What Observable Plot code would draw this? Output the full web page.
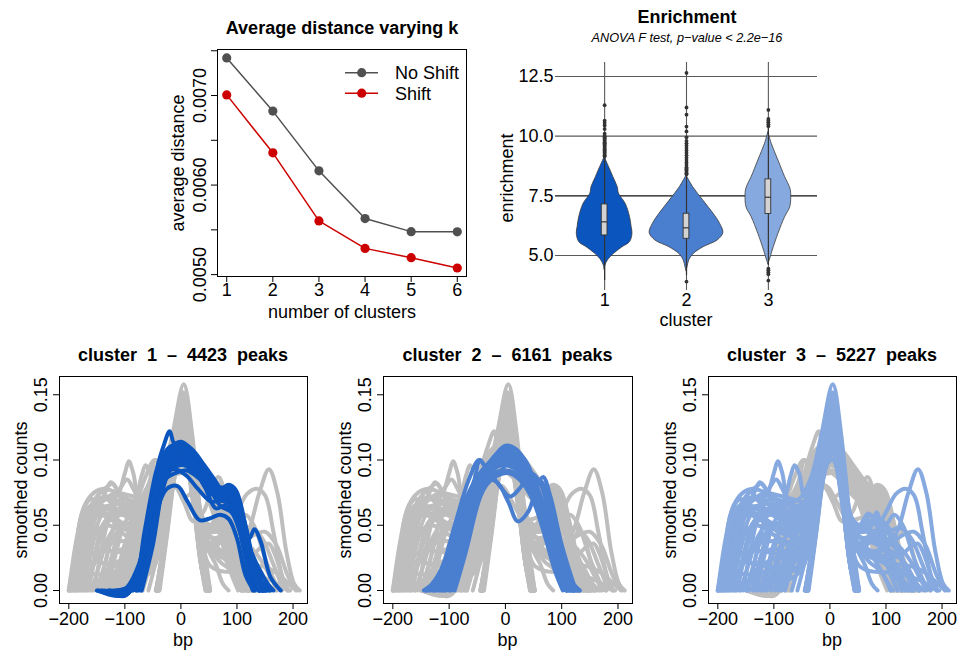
<!DOCTYPE html>
<html><head><meta charset="utf-8">
<script src="https://cdn.jsdelivr.net/npm/d3@7"></script>
<script src="https://cdn.jsdelivr.net/npm/@observablehq/plot@0.6"></script>
<style>
body{margin:0;background:#fff;}
#root{position:relative;width:960px;height:650px;overflow:hidden;font-family:"Liberation Sans",Arial,Helvetica,sans-serif;color:#000;background:#fff;}
.lbl{position:absolute;font-size:18px;white-space:pre;line-height:1;transform:translate(-50%,-50%);}
.rot{transform:translate(-50%,-50%) rotate(-90deg);}
.b{font-weight:bold;}
.i{font-style:italic;}
</style></head>
<body><div id="root"></div>
<script>
// ---------- Panel A: average distance varying k ----------
const kValues = [1, 2, 3, 4, 5, 6];
const distNoShift = [0.00742, 0.006826, 0.006159, 0.005626, 0.00548, 0.005478];
const distShift = [0.007007, 0.00636, 0.0056, 0.005293, 0.005189, 0.005074];
const distTicks = [0.005, 0.0055, 0.006, 0.0065, 0.007, 0.0075];
const distLabelTicks = [0.005, 0.006, 0.007];
const seriesNames = ["No Shift", "Shift"];
const seriesColors = ["#505050", "#cc0000"];

// ---------- Panel B: enrichment violins ----------
const clusters = [1, 2, 3];
const clusterColors = ["#0b55bf", "#4a7fd0", "#86a9df"];
// [enrichment, half width (cluster units)]
const violin1 = [[4.4,0],[4.58,0.01],[4.79,0.04],[5.07,0.115],[5.35,0.22],[5.56,0.31],[5.91,0.34],[6.19,0.33],[6.61,0.31],[7.16,0.258],[7.58,0.176],[7.86,0.16],[8.28,0.107],[8.7,0.055],[9.12,0]];
const violin2 = [[4.35,0],[4.51,0.012],[4.79,0.033],[5.07,0.09],[5.35,0.21],[5.63,0.38],[5.94,0.45],[6.33,0.41],[6.75,0.33],[7.3,0.205],[7.86,0.082],[8.35,0]];
const violin3 = [[4.65,0],[4.79,0.016],[5.21,0.053],[5.91,0.123],[6.61,0.205],[7.02,0.267],[7.44,0.279],[7.79,0.27],[8.28,0.205],[8.98,0.123],[9.68,0.041],[10.17,0]];
const boxQ1 = [5.84, 5.7, 6.74];
const boxMedian = [6.41, 6.16, 7.44];
const boxQ3 = [7.14, 6.75, 8.19];
const whiskerLow = [3.95, 4.15, 4.58];
const whiskerHigh = [9.08, 8.33, 10.35];
const outliers1 = [9.15,9.2,9.25,9.3,9.35,9.4,9.45,9.5,9.55,9.6,9.65,9.7,9.75,9.8,9.85,9.9,9.95,10.0,10.1,10.3,10.45,10.55,10.65,11.3];
const outliers2 = [8.4,8.45,8.5,8.55,8.6,8.65,8.7,8.8,8.9,9.0,9.1,9.2,9.3,9.4,9.5,9.6,9.7,9.8,9.95,10.2,10.4,10.9,11.2,12.65,3.91];
const outliers3 = [10.42,10.5,10.58,10.65,10.72,11.1,4.45,4.38,4.3,4.22,3.95];
const enrichTicks = [5, 7.5, 10, 12.5];

// ---------- Panels C-E: smoothed count profiles (bp, value pairs) ----------
const clusterPeaks = [4423, 6161, 5227];
const bpTicks = [-200, -100, 0, 100, 200];
const countTicks = [0, 0.05, 0.10, 0.15];
const cluster1Curves = [
 [-150,0,-120,-.003,-100,-.004,-80,.008,-65,.045,-45,.09,-30,.112,-20,.122,-12,.113,0,.114,20,.108,40,.097,60,.085,72,.078,85,.081,98,.077,115,.05,130,.015,145,0],
 [-145,0,-110,-.003,-85,.005,-65,.04,-45,.085,-25,.108,-5,.112,20,.105,45,.09,65,.075,85,.07,105,.055,125,.025,150,0],
 [-140,0,-105,-.002,-80,.01,-60,.05,-40,.09,-20,.105,5,.107,30,.095,55,.078,75,.072,95,.065,115,.04,135,.012,160,0],
 [-130,0,-100,.001,-75,.02,-55,.06,-35,.095,-15,.11,10,.108,35,.093,60,.08,85,.078,100,.07,118,.045,135,.01,150,0],
 [-120,0,-95,.002,-70,.025,-50,.065,-30,.095,-10,.105,15,.1,40,.085,65,.07,90,.066,108,.05,125,.02,140,0],
 [-110,0,-85,.005,-62,.035,-42,.075,-25,.098,-5,.108,20,.1,45,.085,70,.072,92,.068,110,.045,128,.015,145,0],
 [-100,0,-78,.008,-58,.04,-38,.08,-20,.1,0,.105,25,.097,50,.08,70,.065,90,.06,105,.045,122,.015,140,0],
 [-95,0,-72,.012,-52,.05,-32,.085,-15,.096,5,.098,30,.09,55,.075,80,.068,95,.07,112,.045,122,.04,131,.047,142,.038,160,.01,178,0],
 [-90,0,-68,.015,-48,.055,-28,.085,-10,.09,10,.092,35,.085,60,.075,85,.08,98,.075,112,.05,128,.015,145,0],
 [-85,0,-63,.02,-44,.06,-25,.078,-6,.08,12,.068,33,.054,50,.055,70,.058,85,.055,100,.04,115,.012,130,0],
 [-80,0,-60,.02,-40,.065,-22,.092,-5,.1,15,.1,40,.09,62,.078,85,.075,105,.06,125,.03,148,0],
 [-75,0,-55,.03,-35,.075,-18,.1,0,.11,22,.105,45,.092,65,.08,88,.072,110,.05,130,.02,152,0],
 [-70,0,-50,.035,-32,.08,-15,.1,5,.105,28,.098,50,.085,72,.075,95,.07,112,.04,125,.01,132,0],
 [-135,0,-100,-.004,-78,.01,-58,.05,-38,.088,-18,.1,5,.1,28,.09,52,.075,78,.074,100,.062,125,.03,155,.005,165,0],
 [-125,0,-90,0,-68,.025,-48,.068,-28,.095,-8,.1,18,.095,42,.08,62,.063,80,.065,95,.058,112,.035,130,.008,140,0],
 [-115,0,-88,.004,-64,.032,-45,.07,-28,.09,-10,.093,10,.088,30,.078,55,.068,78,.07,96,.062,116,.03,138,0],
 [-148,0,-118,-.004,-96,-.002,-78,.012,-60,.048,-42,.085,-26,.103,-8,.107,15,.102,38,.09,60,.078,82,.076,104,.06,122,.03,142,.005,155,0],
 [-105,0,-82,.008,-60,.04,-40,.078,-22,.096,-2,.1,22,.094,48,.08,74,.075,96,.07,114,.045,130,.012,142,0],
 [-88,0,-66,.018,-46,.058,-28,.09,-10,.104,12,.102,36,.09,60,.078,84,.075,100,.066,118,.035,135,.005,148,0],
 [-72,0,-52,.035,-34,.075,-16,.095,4,.1,26,.095,50,.083,72,.072,92,.064,108,.04,120,.012,128,0],
 [-142,0,-112,-.004,-90,0,-72,.02,-54,.058,-36,.092,-20,.108,0,.108,22,.1,46,.088,68,.076,90,.074,108,.058,126,.025,146,.002,158,0],
 [-92,0,-70,.012,-50,.05,-32,.082,-14,.094,6,.096,30,.088,54,.074,78,.072,98,.064,116,.038,134,.008,146,0],
 [-128,0,-98,-.002,-76,.016,-56,.055,-36,.09,-18,.105,2,.106,26,.097,50,.084,74,.077,96,.07,116,.045,136,.012,152,0],
 [-78,0,-58,.026,-40,.07,-22,.096,-4,.104,18,.1,42,.088,64,.076,86,.073,104,.058,122,.025,140,0]
];
const cluster2Curves = [
 [-140,0,-115,.015,-90,.05,-65,.085,-47,.1,-35,.095,-15,.09,5,.098,25,.104,40,.095,60,.075,80,.045,100,.015,118,0],
 [-135,0,-110,.02,-88,.05,-65,.075,-45,.09,-25,.1,0,.111,20,.108,40,.095,60,.072,80,.042,100,.012,120,0],
 [-125,0,-100,.02,-78,.05,-55,.075,-35,.085,-15,.083,5,.068,22,.053,40,.06,55,.078,67,.087,80,.072,100,.035,125,0],
 [-120,0,-95,.025,-72,.06,-50,.085,-30,.09,-10,.08,8,.072,25,.078,45,.09,62,.082,82,.05,100,.02,115,0],
 [-145,0,-118,.01,-95,.035,-70,.065,-45,.085,-20,.1,0,.107,22,.1,45,.085,68,.06,90,.03,110,.008,130,0],
 [-110,0,-88,.025,-65,.06,-42,.085,-20,.1,2,.11,25,.1,48,.08,70,.05,90,.02,108,0],
 [-100,0,-80,.03,-58,.065,-38,.09,-15,.105,5,.108,28,.098,50,.075,72,.045,92,.015,110,0],
 [-130,0,-105,.02,-82,.05,-60,.075,-38,.09,-15,.1,8,.105,30,.1,52,.083,75,.055,98,.022,120,0],
 [-90,0,-70,.03,-50,.065,-30,.09,-10,.1,10,.102,32,.092,55,.07,78,.04,98,.01,112,0],
 [-140,0,-112,.015,-90,.04,-65,.07,-40,.09,-15,.096,10,.095,35,.088,60,.068,85,.04,108,.012,132,0],
 [-115,0,-92,.022,-68,.055,-45,.08,-22,.095,0,.1,22,.097,45,.088,65,.083,85,.055,105,.02,125,0],
 [-105,0,-84,.026,-62,.062,-40,.088,-18,.098,5,.098,28,.09,50,.075,72,.05,95,.018,115,0],
 [-95,0,-75,.03,-55,.06,-35,.08,-15,.088,5,.09,25,.085,48,.07,68,.045,88,.015,102,0],
 [-128,0,-100,.025,-75,.06,-55,.085,-45,.1,-35,.095,-18,.098,0,.1,22,.105,35,.1,55,.08,78,.05,100,.02,122,0],
 [-118,0,-96,.024,-72,.058,-50,.083,-28,.097,-5,.104,18,.1,40,.088,62,.065,84,.035,104,.01,122,0],
 [-98,0,-78,.028,-56,.06,-36,.084,-14,.095,8,.096,30,.088,52,.068,74,.04,94,.012,108,0],
 [-135,0,-108,.018,-84,.048,-62,.074,-40,.09,-18,.095,5,.098,28,.092,50,.078,72,.055,95,.025,118,.004,132,0],
 [-108,0,-86,.025,-64,.058,-42,.08,-20,.09,2,.092,24,.088,46,.075,68,.052,90,.022,110,0],
 [-125,0,-102,.022,-80,.055,-58,.08,-36,.094,-14,.1,8,.101,30,.095,52,.078,74,.05,96,.02,116,0],
 [-112,0,-90,.026,-68,.06,-46,.085,-24,.1,-2,.106,20,.1,42,.086,64,.06,86,.03,106,.006,120,0],
 [-142,0,-116,.012,-92,.042,-70,.07,-48,.088,-26,.097,-4,.1,18,.098,40,.088,62,.066,84,.036,106,.01,128,0]
];
const cluster3Curves = [
 [-200,0,-185,.02,-170,.055,-150,.072,-130,.08,-122,.082,-110,.075,-95,.07,-75,.068,-55,.07,-35,.085,-15,.12,5,.158,20,.12,35,.05,50,0],
 [-195,0,-178,.03,-160,.06,-140,.07,-115,.072,-100,.09,-93,.099,-85,.09,-75,.07,-60,.065,-40,.07,-20,.1,3,.15,20,.11,35,.045,48,0],
 [-190,0,-172,.035,-155,.065,-135,.07,-110,.066,-85,.068,-70,.088,-63,.096,-55,.09,-45,.072,-30,.08,-10,.12,5,.145,22,.1,38,.035,52,0],
 [-185,0,-168,.04,-150,.068,-143,.076,-130,.07,-110,.06,-90,.058,-70,.06,-50,.065,-30,.085,-10,.12,4,.14,20,.105,35,.045,47,0],
 [-180,0,-163,.035,-148,.06,-130,.065,-110,.06,-90,.055,-70,.055,-50,.06,-30,.08,-12,.11,3,.13,20,.09,36,.035,46,0],
 [-198,0,-180,.025,-165,.05,-145,.06,-125,.058,-105,.052,-85,.05,-65,.05,-45,.055,-25,.08,-5,.115,6,.125,22,.085,38,.025,50,0],
 [-175,0,-160,.03,-145,.055,-128,.065,-112,.062,-95,.06,-75,.058,-55,.055,-38,.06,-20,.09,2,.12,18,.09,34,.03,44,0],
 [-170,0,-155,.025,-140,.05,-120,.06,-100,.065,-80,.062,-60,.05,-45,.045,-28,.065,-8,.1,5,.11,22,.075,38,.02,48,0],
 [-160,0,-145,.02,-130,.04,-112,.05,-95,.048,-75,.045,-58,.04,-42,.045,-25,.07,-5,.1,8,.1,25,.065,40,.015,52,0],
 [-42,0,-28,.04,-12,.1,4,.15,20,.11,36,.055,50,.035,75,.03,100,.032,120,.045,140,.075,157,.093,172,.075,188,.03,202,.005,212,0],
 [-44,0,-30,.035,-14,.09,3,.14,20,.1,38,.05,55,.04,80,.045,100,.06,118,.074,135,.078,150,.073,165,.045,180,.012,192,0],
 [-40,0,-25,.05,-10,.1,5,.135,22,.095,38,.055,52,.05,68,.059,78,.055,90,.04,110,.02,125,.005,135,0],
 [-38,0,-24,.045,-8,.1,5,.128,22,.09,40,.05,58,.045,75,.05,83,.06,92,.05,110,.025,130,.005,140,0],
 [-45,0,-30,.03,-14,.08,4,.12,22,.085,40,.04,60,.03,85,.028,110,.025,130,.028,145,.034,157,.036,170,.025,185,.005,192,0],
 [-43,0,-28,.04,-12,.09,6,.115,25,.08,42,.045,60,.04,80,.042,100,.05,115,.058,130,.05,150,.025,170,.005,180,0],
 [-40,0,-25,.045,-10,.1,4,.142,20,.1,36,.05,50,.03,65,.035,85,.04,105,.03,125,.012,145,0],
 [-200,0,-183,.025,-165,.05,-150,.06,-135,.075,-125,.083,-115,.078,-100,.065,-85,.055,-65,.05,-48,.045,-30,.06,-10,.095,5,.105,22,.07,38,.02,46,0],
 [-192,0,-176,.03,-160,.058,-140,.068,-120,.074,-100,.07,-80,.062,-60,.058,-40,.065,-20,.1,4,.148,22,.105,40,.055,60,.048,82,.045,100,.04,120,.03,140,.012,158,0],
 [-165,0,-150,.03,-132,.055,-115,.06,-95,.058,-75,.055,-55,.05,-38,.05,-20,.075,0,.105,15,.1,32,.05,48,.035,70,.04,90,.035,110,.02,128,0],
 [-182,0,-166,.04,-150,.066,-135,.072,-120,.07,-106,.08,-96,.085,-85,.078,-70,.065,-52,.06,-35,.075,-15,.115,4,.152,22,.11,38,.045,52,0],
 [-145,0,-130,.03,-115,.055,-98,.062,-80,.06,-62,.055,-45,.06,-25,.09,-5,.13,6,.138,22,.095,38,.035,50,0],
 [-130,0,-115,.03,-100,.052,-85,.06,-70,.058,-52,.055,-35,.07,-15,.11,4,.142,20,.105,36,.04,48,0],
 [-118,0,-104,.025,-90,.045,-75,.055,-58,.055,-40,.06,-22,.09,-4,.125,7,.13,24,.09,40,.03,52,0],
 [-105,0,-90,.025,-75,.045,-60,.052,-45,.055,-28,.075,-10,.11,4,.132,20,.095,36,.035,46,0],
 [-92,0,-78,.02,-62,.04,-48,.05,-32,.065,-14,.1,4,.125,20,.09,36,.035,45,0],
 [-80,0,-66,.02,-52,.04,-38,.055,-22,.08,-6,.11,6,.118,22,.085,38,.03,48,0],
 [-68,0,-55,.02,-42,.04,-28,.065,-12,.1,4,.135,20,.1,36,.04,48,0],
 [-155,0,-140,.035,-125,.06,-108,.07,-92,.068,-76,.065,-60,.06,-42,.065,-22,.095,2,.145,18,.115,35,.05,50,.03,75,.025,100,.02,120,.008,135,0],
 [-40,0,-24,.05,-8,.11,5,.14,20,.1,36,.05,50,.03,62,.02,75,.005,85,0],
 [-42,0,-26,.05,-10,.105,4,.13,22,.09,38,.045,55,.035,75,.03,95,.025,110,.01,120,0],
 [-44,0,-28,.04,-12,.095,5,.125,22,.085,40,.045,60,.04,85,.035,110,.03,135,.02,155,.005,168,0],
 [-40,0,-25,.045,-10,.1,5,.135,22,.095,40,.05,58,.048,72,.058,86,.05,100,.035,115,.015,128,0],
 [-200,0,-188,.03,-176,.06,-160,.07,-140,.065,-120,.06,-100,.058,-80,.055,-60,.05,-42,.05,-25,.075,-5,.115,6,.12,22,.08,38,.02,48,0],
 [-196,0,-182,.035,-168,.062,-152,.068,-135,.072,-118,.07,-100,.062,-82,.05,-64,.045,-45,.05,-25,.08,-4,.13,6,.135,22,.09,38,.025,50,0],
 [-188,0,-174,.03,-160,.052,-145,.058,-128,.055,-110,.05,-92,.045,-74,.042,-56,.04,-40,.045,-22,.07,-2,.105,8,.108,24,.07,40,.015,50,0],
 [-178,0,-164,.025,-150,.045,-134,.05,-116,.048,-98,.042,-80,.038,-62,.036,-46,.04,-28,.06,-8,.095,6,.1,22,.065,38,.015,48,0],
 [-168,0,-154,.025,-140,.045,-124,.055,-106,.058,-88,.055,-70,.05,-52,.048,-36,.055,-18,.085,2,.115,18,.085,34,.025,44,0],
 [-150,0,-136,.02,-122,.04,-106,.048,-88,.05,-70,.048,-52,.045,-36,.05,-18,.08,2,.11,18,.08,34,.025,44,0],
 [-138,0,-124,.025,-110,.045,-94,.052,-78,.05,-60,.045,-44,.048,-26,.07,-6,.105,6,.11,22,.075,38,.02,48,0],
 [-124,0,-110,.02,-96,.04,-80,.048,-64,.048,-48,.05,-30,.07,-10,.1,4,.12,20,.088,36,.03,46,0],
 [-112,0,-98,.02,-84,.038,-68,.045,-52,.048,-36,.058,-18,.085,2,.118,18,.09,34,.035,46,0],
 [-98,0,-85,.02,-70,.038,-56,.045,-40,.05,-24,.07,-6,.1,6,.108,22,.075,38,.02,48,0],
 [-86,0,-72,.018,-58,.035,-44,.045,-30,.06,-12,.095,4,.115,20,.085,36,.03,46,0],
 [-58,0,-46,.02,-34,.045,-20,.075,-6,.11,5,.125,20,.09,36,.035,46,0],
 [-42,0,-27,.045,-11,.1,4,.13,21,.09,38,.045,55,.03,70,.022,90,.015,105,.005,112,0],
 [-40,0,-25,.05,-9,.105,5,.14,21,.1,38,.05,56,.04,75,.038,95,.032,115,.028,135,.02,150,.008,160,0],
 [-43,0,-28,.04,-12,.095,4,.12,22,.08,40,.042,60,.035,82,.04,105,.045,125,.048,145,.04,165,.02,182,.003,190,0],
 [-41,0,-26,.045,-10,.1,5,.13,22,.088,38,.05,52,.045,65,.05,80,.055,95,.05,115,.035,135,.015,150,0],
 [-44,0,-29,.04,-13,.09,3,.125,20,.088,38,.04,58,.03,80,.03,105,.035,128,.042,150,.045,170,.035,190,.012,205,0],
 [-39,0,-24,.05,-8,.11,6,.145,22,.1,38,.05,52,.035,68,.03,85,.02,100,.008,108,0],
 [-195,0,-180,.015,-160,.022,-130,.02,-100,.018,-70,.02,-45,.03,-20,.07,4,.11,20,.08,36,.025,46,0],
 [-190,0,-175,.02,-150,.03,-120,.03,-90,.028,-60,.03,-40,.04,-18,.08,4,.12,20,.085,36,.03,46,0],
 [-185,0,-168,.012,-140,.012,-110,.01,-80,.012,-55,.02,-35,.04,-15,.08,4,.11,20,.075,36,.02,46,0],
 [-172,0,-155,.02,-130,.035,-100,.038,-70,.035,-45,.038,-25,.07,-4,.11,6,.115,22,.08,38,.02,48,0],
 [-160,0,-142,.01,-120,.02,-95,.025,-70,.025,-48,.03,-28,.055,-8,.095,5,.1,22,.07,38,.015,48,0],
 [-148,0,-132,.012,-110,.015,-85,.014,-62,.016,-42,.025,-24,.06,-4,.1,6,.105,22,.07,38,.015,48,0],
 [-135,0,-120,.028,-100,.032,-78,.03,-56,.032,-38,.045,-20,.08,2,.118,18,.085,34,.025,46,0],
 [-122,0,-106,.008,-86,.008,-66,.01,-48,.018,-30,.045,-10,.09,5,.105,22,.07,38,.015,48,0],
 [-200,0,-186,.04,-172,.065,-155,.075,-138,.078,-120,.076,-102,.074,-84,.072,-66,.07,-48,.068,-30,.08,-10,.12,5,.15,20,.11,36,.04,48,0],
 [-42,0,-26,.05,-10,.1,5,.13,20,.09,36,.04,50,.02,70,.015,100,.014,130,.012,160,.008,185,.002,195,0],
 [-40,0,-24,.05,-9,.105,5,.135,21,.095,38,.05,55,.04,80,.025,105,.02,130,.015,150,.005,160,0],
 [-43,0,-27,.045,-11,.1,4,.125,22,.085,40,.04,60,.03,90,.025,120,.02,150,.018,175,.012,200,.002,208,0],
 [-41,0,-25,.05,-9,.105,5,.13,22,.09,40,.045,65,.045,95,.04,120,.035,140,.025,160,.01,172,0],
 [-44,0,-28,.045,-12,.095,4,.12,22,.085,40,.045,60,.05,85,.055,105,.048,125,.03,140,.01,148,0]
];

// ---------- helpers ----------
const root = document.getElementById("root");
const FONT = '"Liberation Sans", Arial, Helvetica, sans-serif';
function label(text, x, y, opts = {}) {
  const d = document.createElement("div");
  d.className = "lbl" + (opts.rot ? " rot" : "") + (opts.bold ? " b" : "") + (opts.italic ? " i" : "");
  d.textContent = text;
  d.style.left = x + "px"; d.style.top = y + "px";
  if (opts.size) d.style.fontSize = opts.size + "px";
  root.appendChild(d);
}
function place(chart, left, top) {
  chart.style.position = "absolute";
  chart.style.left = left + "px";
  chart.style.top = top + "px";
  root.appendChild(chart);
}
function frameMargins(left, top, width, height, f) {
  return {width, height, marginLeft: f[0] - left, marginRight: left + width - f[1], marginTop: f[2] - top, marginBottom: top + height - f[3]};
}
const baseStyle = {fontFamily: FONT, fontSize: "18px", overflow: "visible", background: "transparent", color: "#000"};

// ---------- Panel A ----------
{
  const rows = [];
  kValues.forEach((k, i) => {
    rows.push({k, v: distNoShift[i], s: seriesNames[0]});
    rows.push({k, v: distShift[i], s: seriesNames[1]});
  });
  const frame = [217, 466, 49, 276];
  const L = 150, T = 40, W = 330, H = 285;
  const chart = Plot.plot({
    ...frameMargins(L, T, W, H, frame),
    style: baseStyle,
    x: {domain: [0.8, 6.2]},
    y: {domain: [0.004979, 0.007514]},
    color: {domain: seriesNames, range: seriesColors},
    marks: [
      Plot.line(rows, {x: "k", y: "v", stroke: "s", strokeWidth: 1.5}),
      Plot.dot(rows, {x: "k", y: "v", fill: "s", r: 4.6}),
      Plot.frame({stroke: "#000", strokeWidth: 1}),
      Plot.axisX({ticks: kValues, tickFormat: d => String(d), tickSize: 6, tickPadding: 1, label: null, fontSize: 18}),
      Plot.axisY({ticks: distTicks, tickFormat: d => distLabelTicks.some(t => Math.abs(t - d) < 1e-9) ? d.toFixed(4) : "", tickRotate: -90, textAnchor: "middle", tickSize: 6, tickPadding: 6, label: null, fontSize: 18})
    ]
  });
  place(chart, L, T);
  label("Average distance varying k", 342, 28, {bold: true});
  label("number of clusters", 342, 312);
  label("average distance", 178, 163, {rot: true});
  const ns = "http://www.w3.org/2000/svg";
  const lg = document.createElementNS(ns, "svg");
  lg.setAttribute("width", 130); lg.setAttribute("height", 44);
  lg.style.position = "absolute"; lg.style.left = "340px"; lg.style.top = "61px"; lg.style.overflow = "visible";
  seriesNames.forEach((name, i) => {
    const y = 11.7 + i * 20.5;
    const ln = document.createElementNS(ns, "line");
    ln.setAttribute("x1", 5); ln.setAttribute("x2", 38); ln.setAttribute("y1", y); ln.setAttribute("y2", y);
    ln.setAttribute("stroke", seriesColors[i]); ln.setAttribute("stroke-width", 1.5);
    lg.appendChild(ln);
    const c = document.createElementNS(ns, "circle");
    c.setAttribute("cx", 21.7); c.setAttribute("cy", y); c.setAttribute("r", 4.6); c.setAttribute("fill", seriesColors[i]);
    lg.appendChild(c);
    const t = document.createElementNS(ns, "text");
    t.setAttribute("x", 55); t.setAttribute("y", y); t.setAttribute("dy", "0.35em");
    t.setAttribute("font-size", 18); t.setAttribute("font-family", FONT);
    t.textContent = name;
    lg.appendChild(t);
  });
  root.appendChild(lg);
}

// ---------- Panel B ----------
{
  const violins = [violin1, violin2, violin3];
  const vRows = violins.flatMap((v, i) => v.map(([e, w]) => ({c: clusters[i], e, w})));
  const boxes = clusters.map((c, i) => ({c, q1: boxQ1[i], med: boxMedian[i], q3: boxQ3[i], lo: whiskerLow[i], hi: whiskerHigh[i]}));
  const outs = [outliers1, outliers2, outliers3].flatMap((o, i) => o.map(e => ({c: clusters[i], e})));
  const frame = [555, 817, 62, 290];
  const L = 490, T = 50, W = 340, H = 270;
  const chart = Plot.plot({
    ...frameMargins(L, T, W, H, frame),
    style: baseStyle,
    x: {domain: [0.4, 3.6]},
    y: {domain: [3.534, 13.086]},
    color: {domain: clusters, range: clusterColors},
    marks: [
      Plot.ruleY(enrichTicks, {stroke: d => d === 7.5 ? "#111" : "#5a5a5a", strokeWidth: 1.1}),
      Plot.ruleX(clusters, {stroke: "#5a5a5a", strokeWidth: 1.1}),
      Plot.areaX(vRows, {y: "e", x1: d => d.c - d.w, x2: d => d.c + d.w, z: "c", fill: "c", stroke: "#3a3a3a", strokeWidth: 0.8, curve: "catmull-rom"}),
      Plot.ruleX(boxes, {x: "c", y1: "lo", y2: "hi", stroke: "#333", strokeWidth: 1.2}),
      Plot.rect(boxes, {x1: d => d.c - 0.035, x2: d => d.c + 0.035, y1: "q1", y2: "q3", fill: "#d3d3d3", stroke: "#333", strokeWidth: 0.9}),
      Plot.ruleY(boxes, {y: "med", x1: d => d.c - 0.035, x2: d => d.c + 0.035, stroke: "#333", strokeWidth: 1.2}),
      Plot.dot(outs, {x: "c", y: "e", r: 1.9, fill: "#333"}),
      Plot.axisX({ticks: clusters, tickFormat: d => String(d), tickSize: 0, tickPadding: 3, label: null, fontSize: 18}),
      Plot.axisY({ticks: enrichTicks, tickFormat: d => d.toFixed(1), tickSize: 0, tickPadding: 2, label: null, fontSize: 18})
    ]
  });
  place(chart, L, T);
  label("Enrichment", 687, 17, {bold: true});
  label("ANOVA F test, p\u2212value < 2.2e\u221216", 687, 38, {italic: true, size: 12.7});
  label("enrichment", 507, 178, {rot: true});
  label("cluster", 686, 320);
}

// ---------- Panels C-E ----------
{
  const allCurves = [cluster1Curves, cluster2Curves, cluster3Curves];
  const rowsFor = (curves, ci) => curves.flatMap((c, i) => {
    const out = [];
    for (let j = 0; j < c.length; j += 2) out.push({id: ci + "-" + i, bp: c[j], val: c[j + 1]});
    return out;
  });
  const rowsByCluster = allCurves.map((c, i) => rowsFor(c, i));
  const frames = [[59, 307, 376, 603], [383, 632, 376, 603], [708, 956, 376, 603]];
  const lefts = [0, 330, 655];
  const widths = [320, 315, 305];
  frames.forEach((frame, ci) => {
    const T = 370, H = 270, L = lefts[ci], W = widths[ci];
    const others = rowsByCluster.filter((_, j) => j !== ci).flat();
    const chart = Plot.plot({
      ...frameMargins(L, T, W, H, frame),
      style: baseStyle,
      x: {domain: [-216.6, 225.8]},
      y: {domain: [-0.00996, 0.164]},
      marks: [
        Plot.line(others, {x: "bp", y: "val", z: "id", stroke: "#bebebe", strokeWidth: 4, curve: "catmull-rom"}),
        Plot.line(rowsByCluster[ci], {x: "bp", y: "val", z: "id", stroke: clusterColors[ci], strokeWidth: 4, curve: "catmull-rom"}),
        Plot.frame({stroke: "#000", strokeWidth: 1}),
        Plot.axisX({ticks: bpTicks, tickSize: 6, tickPadding: 3, label: null, fontSize: 18}),
        Plot.axisY({ticks: countTicks, tickFormat: d => d.toFixed(2), tickRotate: -90, textAnchor: "middle", tickSize: 6, tickPadding: 7, label: null, fontSize: 18})
      ]
    });
    place(chart, L, T);
    const cx = (frame[0] + frame[1]) / 2;
    label("cluster  " + clusters[ci] + "  \u2013  " + clusterPeaks[ci] + "  peaks", cx, 355, {bold: true});
    label("bp", cx, 640);
    label("smoothed counts", frame[0] - 38, 490, {rot: true});
  });
}
</script>
</body></html>
